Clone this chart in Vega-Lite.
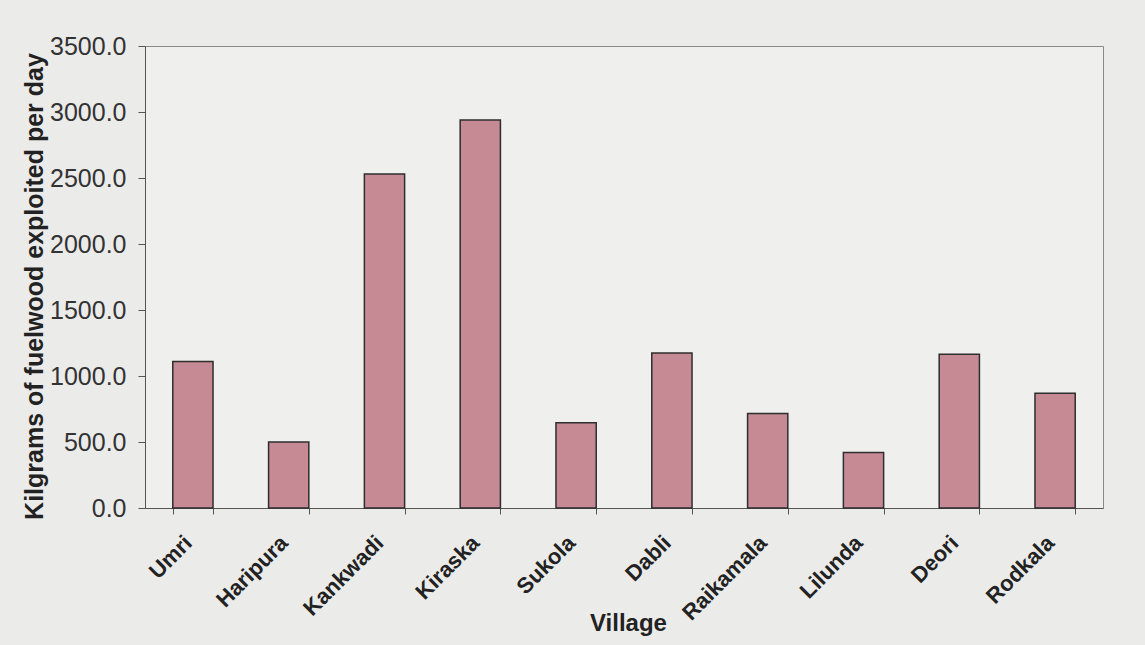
{
  "$schema": "https://vega.github.io/schema/vega-lite/v6.json",
  "width": 958,
  "height": 462,
  "autosize": "none",
  "padding": {"left": 145, "top": 46, "right": 42, "bottom": 137},
  "background": "#ebebea",
  "config": {
    "font": "Liberation Sans",
    "view": {"stroke": "#8a8a8a", "strokeWidth": 1, "fill": "#efefee"}
  },
  "data": {
    "values": [
      {"Village": "Umri", "Fuelwood": 1110},
      {"Village": "Haripura", "Fuelwood": 500},
      {"Village": "Kankwadi", "Fuelwood": 2530},
      {"Village": "Kiraska", "Fuelwood": 2940},
      {"Village": "Sukola", "Fuelwood": 645},
      {"Village": "Dabli", "Fuelwood": 1175},
      {"Village": "Raikamala", "Fuelwood": 715},
      {"Village": "Lilunda", "Fuelwood": 420},
      {"Village": "Deori", "Fuelwood": 1165},
      {"Village": "Rodkala", "Fuelwood": 870}
    ]
  },
  "mark": {"type": "bar", "color": "#c68a95", "stroke": "#2e2e2e", "strokeWidth": 1.5},
  "encoding": {
    "x": {
      "field": "Village",
      "type": "nominal",
      "sort": null,
      "scale": {"paddingInner": 0.58, "paddingOuter": 0.29},
      "axis": {
        "title": "Village",
        "titleFont": "Liberation Sans",
        "titleFontSize": 24,
        "titleFontWeight": "bold",
        "titleColor": "#222",
        "titleBaseline": "alphabetic",
        "titleY": 122,
        "titleX": 483,
        "labelAngle": -45,
        "labelAlign": "right",
        "labelBaseline": "middle",
        "labelFontSize": 22,
        "labelFontWeight": "bold",
        "labelColor": "#222",
        "labelPadding": 25,
        "labelOffset": -5,
        "labelOverlap": false,
        "tickBand": "extent",
        "tickSize": 6,
        "tickColor": "#555",
        "domainColor": "#555",
        "grid": false
      }
    },
    "y": {
      "field": "Fuelwood",
      "type": "quantitative",
      "scale": {"domain": [0, 3500]},
      "axis": {
        "title": "Kilgrams of fuelwood exploited per day",
        "titleFontSize": 25,
        "titleFontWeight": "bold",
        "titleColor": "#222",
        "titleX": -111,
        "titleY": 240,
        "titleAlign": "center",
        "titleBaseline": "middle",
        "values": [0, 500, 1000, 1500, 2000, 2500, 3000, 3500],
        "format": ".1f",
        "labelFontSize": 25,
        "labelColor": "#333",
        "labelPadding": 12,
        "tickSize": 7,
        "tickColor": "#555",
        "domainColor": "#555",
        "grid": false
      }
    }
  }
}
